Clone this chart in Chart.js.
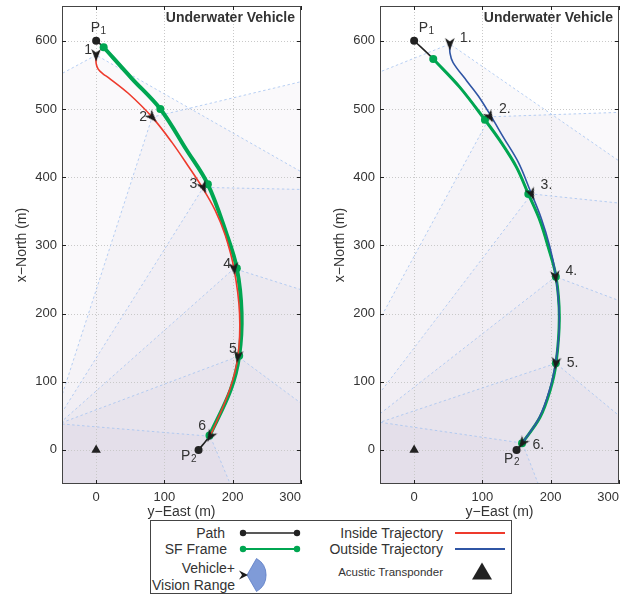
<!DOCTYPE html>
<html>
<head>
<meta charset="utf-8">
<script src="https://cdn.jsdelivr.net/npm/chart.js@4.4.0/dist/chart.umd.min.js"></script>
<style>
  body { margin: 0; background: #fff; width: 630px; height: 596px; position: relative; overflow: hidden;
         font-family: "Liberation Sans", Arial, sans-serif; color: #333; }
  canvas.panel { position: absolute; top: 0; }
  #legend { position: absolute; left: 150px; top: 520px; width: 362px; height: 74px; box-sizing: border-box;
            border: 1px solid #444; background: #fff; }
  .lt { position: absolute; text-align: right; white-space: nowrap; line-height: 16px; font-size: 14px; color: #333; }
  svg { position: absolute; overflow: visible; }
</style>
</head>
<body>
<canvas id="left" class="panel" width="318" height="522" style="left:0"></canvas>
<canvas id="right" class="panel" width="318" height="522" style="left:318px"></canvas>

<div id="legend"></div>
<div class="lt" style="right:405px;top:525px">Path</div>
<div class="lt" style="right:403px;top:541px">SF Frame</div>
<div class="lt" style="right:395px;top:560px">Vehicle+</div>
<div class="lt" style="right:395px;top:577px">Vision Range</div>
<div class="lt" style="right:187px;top:525px">Inside Trajectory</div>
<div class="lt" style="right:187px;top:541px">Outside Trajectory</div>
<div class="lt" style="right:187px;top:564px;font-size:11.5px">Acustic Transponder</div>
<svg style="left:239px;top:527px" width="62" height="12">
  <line x1="4" y1="6" x2="58" y2="6" stroke="#222" stroke-width="1.6"/>
  <circle cx="4" cy="6" r="3.2" fill="#222"/><circle cx="58" cy="6" r="3.2" fill="#222"/>
</svg>
<svg style="left:239px;top:543px" width="62" height="12">
  <line x1="4" y1="6" x2="58" y2="6" stroke="#00a651" stroke-width="2"/>
  <circle cx="4" cy="6" r="3.2" fill="#00a651"/><circle cx="58" cy="6" r="3.2" fill="#00a651"/>
</svg>
<svg style="left:455px;top:529px" width="52" height="8"><line x1="0" y1="4" x2="50" y2="4" stroke="#ee3a2c" stroke-width="2"/></svg>
<svg style="left:455px;top:545px" width="52" height="8"><line x1="0" y1="4" x2="50" y2="4" stroke="#2f55a4" stroke-width="2"/></svg>
<svg style="left:234px;top:555px" width="36" height="40">
  <path d="M13,20 L22.5,3.5 A19,19 0 0,1 22.5,36.5 Z" fill="#7f9bd8" stroke="#5b7bc4" stroke-width="0.8"/>
  <polygon points="14,20 5,15.5 8,20 5,24.5" fill="#1b1b1b"/>
</svg>
<svg style="left:471px;top:561px" width="22" height="20"><polygon points="11,1.5 21,18.5 1,18.5" fill="#222"/></svg>

<script>
const xTicks = [0, 100, 200, 300];
const yTicks = [0, 100, 200, 300, 400, 500, 600];
const transponder = [[0, 0]];

// left panel: path, SF frame and inside trajectory
const leftEnds = [[0, 600], [150, 0]];
const leftSF = [[11, 590.5], [52, 545], [94, 500], [132, 440.5], [163.6, 389.5], [190.6, 318], [206, 266.5],
                [213, 200.7], [209.5, 138], [197, 88], [166, 21]];
const leftSFDots = [[11, 590.5], [94, 500], [163.6, 389.5], [206, 266.5], [209.5, 138], [166, 21]];
const leftInside = [[0, 579], [0, 567], [3, 558.5], [10, 551.5], [18, 546], [47, 523], [82, 488], [111, 451],
                    [135, 416], [156, 384], [174, 352], [189, 315], [202, 265], [210, 200], [207.6, 137],
                    [195.5, 88], [167, 20]];
const leftVehicles = [[0, 579], [82, 488], [157, 385], [202, 266], [207.6, 137], [167, 20]];
const leftHeadings = [180, 137, 156, 173, 187, 210];
const leftViewA = [[-50, 552], [-50, 80], [-50, 55], [-50, 42], [-50, 40], [-50, 38]];
const leftViewB = [[300, 408], [300, 540], [300, 382], [300, 235], [300, 68.5], [196, -49]];
const leftNames = ['1', '2', '3', '4', '5', '6'];

// right panel: path, SF frame and outside trajectory
const rightEnds = [[0, 600], [150, 0]];
const rightSF = [[28, 573.3], [67, 531.7], [103.7, 484], [125.7, 453.5], [150, 414.4], [167.2, 375.4], [184.3, 336.2],
                 [196.5, 297], [207.8, 254], [212.6, 194.4], [207.8, 127], [199, 87], [184.3, 47.8], [158, 9.7]];
const rightSFDots = [[28, 573.3], [103.7, 484], [167.2, 375.4], [207.5, 254], [207.5, 127], [158, 9.7]];
const rightOutside = [[52.3, 595.3], [52.5, 582], [57, 568], [76.8, 541.5], [94, 519], [111, 492], [131, 458],
                      [153, 421], [170, 380], [186, 340], [199, 297], [207, 258], [212, 210], [212, 170],
                      [207, 127], [198, 87], [183, 47], [158.5, 10]];
const rightVehicles = [[52.3, 595.3], [111, 488.5], [172, 375.4], [207, 254], [207.5, 127], [158.5, 10]];
const rightHeadings = [180, 150, 158, 173, 187, 215];
const rightViewA = [[-50, 554.4], [-50, 192], [-50, 84], [-50, 53], [-50, 40.5], [-50, 40.5]];
const rightViewB = [[243, 463.3], [300, 495], [300, 362], [300, 219], [300, 50.3], [181.8, -50]];
const rightNames = ['1.', '2.', '3.', '4.', '5.', '6.'];

const FONT = '"Liberation Sans", Arial, sans-serif';
const INK = '#333';
const GREEN = '#00a651';

// vehicle symbol, pointing up, rotated per point
function makeDart() {
    const c = document.createElement('canvas');
    c.width = 16; c.height = 16;
    const g = c.getContext('2d');
    g.fillStyle = '#1b1b1b';
    g.beginPath();
    g.moveTo(8, 1.5); g.lineTo(12.8, 14); g.lineTo(8, 10.5); g.lineTo(3.2, 14);
    g.closePath();
    g.fill();
    return c;
}
const dart = makeDart();

const xy = pts => pts.map(p => ({x: p[0], y: p[1]}));

function scenePlugin(panel) {
    return {
        id: 'scene',
        beforeDatasetsDraw(chart) {
            const {ctx, chartArea: a, scales: {x, y}} = chart;
            const px = p => [x.getPixelForValue(p[0]), y.getPixelForValue(p[1])];
            ctx.save();
            ctx.beginPath();
            ctx.rect(a.left, a.top, a.width, a.height);
            ctx.clip();

            // vision range wedges
            const wedges = panel.vehicles.map((v, i) => {
                const far = e => {
                    const dx = e[0] - v[0], dy = e[1] - v[1], l = Math.hypot(dx, dy);
                    return [v[0] + dx / l * 3000, v[1] + dy / l * 3000];
                };
                return [px(v), px(far(panel.viewA[i])), px(far(panel.viewB[i]))];
            });
            ctx.fillStyle = 'rgba(150,128,182,0.05)';
            wedges.forEach(w => {
                ctx.beginPath();
                ctx.moveTo(w[0][0], w[0][1]);
                ctx.lineTo(w[1][0], w[1][1]);
                ctx.lineTo(w[2][0], w[2][1]);
                ctx.closePath();
                ctx.fill();
            });

            // dotted grid
            ctx.strokeStyle = '#c9c9c9';
            ctx.lineWidth = 1;
            ctx.setLineDash([1, 2]);
            xTicks.forEach(v => {
                const p = Math.round(x.getPixelForValue(v)) + 0.5;
                ctx.beginPath(); ctx.moveTo(p, a.top); ctx.lineTo(p, a.bottom); ctx.stroke();
            });
            yTicks.forEach(v => {
                const p = Math.round(y.getPixelForValue(v)) + 0.5;
                ctx.beginPath(); ctx.moveTo(a.left, p); ctx.lineTo(a.right, p); ctx.stroke();
            });

            // wedge borders
            ctx.strokeStyle = 'rgba(165,195,240,0.8)';
            ctx.setLineDash([2.5, 2.5]);
            wedges.forEach(w => {
                ctx.beginPath();
                ctx.moveTo(w[1][0], w[1][1]);
                ctx.lineTo(w[0][0], w[0][1]);
                ctx.lineTo(w[2][0], w[2][1]);
                ctx.stroke();
            });
            ctx.restore();
        },
        afterDatasetsDraw(chart) {
            const {ctx, chartArea: a, scales: {x, y}} = chart;
            ctx.save();
            ctx.fillStyle = INK;
            ctx.textBaseline = 'middle';

            // waypoint numbers
            ctx.font = '14px ' + FONT;
            ctx.textAlign = panel.labelAlign;
            panel.vehicles.forEach((v, i) => {
                const o = panel.labelOffsets[i];
                ctx.fillText(panel.names[i], x.getPixelForValue(v[0]) + o[0], y.getPixelForValue(v[1]) + o[1]);
            });

            // P1 / P2
            ctx.textAlign = 'left';
            panel.ends.forEach((e, i) => {
                const o = panel.endOffsets[i];
                const cx = x.getPixelForValue(e[0]) + o[0], cy = y.getPixelForValue(e[1]) + o[1];
                ctx.font = '14px ' + FONT;
                const wP = ctx.measureText('P').width;
                ctx.font = '10px ' + FONT;
                const wS = ctx.measureText(String(i + 1)).width;
                const x0 = cx - (wP + wS) / 2;
                ctx.font = '14px ' + FONT;
                ctx.fillText('P', x0, cy);
                ctx.font = '10px ' + FONT;
                ctx.fillText(String(i + 1), x0 + wP + 0.5, cy + 3);
            });

            // title inside the axes
            ctx.font = 'bold 14px ' + FONT;
            ctx.textAlign = 'right';
            ctx.fillText('Underwater Vehicle', a.right - 6, a.top + 12);

            // box and inward ticks
            ctx.strokeStyle = '#444';
            ctx.lineWidth = 1;
            ctx.strokeRect(a.left + 0.5, a.top + 0.5, a.width - 1, a.height - 1);
            ctx.strokeStyle = '#222';
            ctx.beginPath();
            xTicks.forEach(v => {
                const p = Math.round(x.getPixelForValue(v)) + 0.5;
                ctx.moveTo(p, a.bottom); ctx.lineTo(p, a.bottom - 4);
                ctx.moveTo(p, a.top); ctx.lineTo(p, a.top + 4);
            });
            yTicks.forEach(v => {
                const p = Math.round(y.getPixelForValue(v)) + 0.5;
                ctx.moveTo(a.left, p); ctx.lineTo(a.left + 4, p);
                ctx.moveTo(a.right, p); ctx.lineTo(a.right - 4, p);
            });
            ctx.stroke();
            ctx.restore();
        }
    };
}

function makePanel(id, panel) {
    const path = [panel.ends[0], ...panel.sf, panel.ends[1]];
    return new Chart(document.getElementById(id), {
        type: 'scatter',
        data: {
            datasets: [
                { data: xy(panel.vehicles), pointStyle: dart, pointRotation: panel.headings, pointRadius: 5 },
                { data: xy(panel.traj), showLine: true, borderColor: panel.trajColor, borderWidth: 1.6,
                  pointRadius: 0, tension: 0.35 },
                { data: xy(panel.sfDots), pointRadius: 4, pointBackgroundColor: GREEN, pointBorderWidth: 0 },
                { data: xy(panel.sf), showLine: true, borderColor: GREEN, borderWidth: panel.sfWidth,
                  pointRadius: 0, tension: 0.35 },
                { data: xy(path), showLine: true, borderColor: '#222', borderWidth: 1.6, tension: 0.35,
                  pointRadius: path.map((p, i) => (i === 0 || i === path.length - 1) ? 4 : 0),
                  pointBackgroundColor: '#222', pointBorderWidth: 0 },
                { data: xy(transponder), pointStyle: 'triangle', pointRadius: 5.5,
                  pointBackgroundColor: '#222', pointBorderWidth: 0 }
            ]
        },
        options: {
            responsive: false,
            animation: false,
            devicePixelRatio: 1,
            events: [],
            layout: { padding: { top: 6, right: 17, left: 0, bottom: 0 } },
            plugins: { legend: { display: false }, tooltip: { enabled: false } },
            scales: {
                x: {
                    type: 'linear', min: -50, max: 300,
                    // blank tick at the left edge so that 'inner' keeps 0 centred and pulls 300 inside
                    afterBuildTicks: s => { s.ticks = [-50, ...xTicks].map(v => ({value: v})); },
                    afterFit: s => { s.height = 38; s.paddingLeft = 0; s.paddingRight = 0; },
                    grid: { display: false, drawTicks: false },
                    border: { display: false },
                    ticks: { color: INK, font: { family: FONT, size: 13 }, padding: 6, maxRotation: 0,
                             align: 'inner', callback: v => v === -50 ? '' : v },
                    title: { display: true, text: 'y−East (m)', color: INK, font: { family: FONT, size: 14 },
                             padding: { top: 0, bottom: 1.6 } }
                },
                y: {
                    type: 'linear', min: -50, max: 651,
                    afterBuildTicks: s => { s.ticks = yTicks.map(v => ({value: v})); },
                    afterFit: s => { s.width = 62; s.paddingTop = 0; s.paddingBottom = 0; },
                    grid: { display: false, drawTicks: false },
                    border: { display: false },
                    ticks: { color: INK, font: { family: FONT, size: 13 }, padding: 5 },
                    title: { display: true, text: 'x−North (m)', color: INK, font: { family: FONT, size: 14 },
                             padding: { top: 13.5, bottom: 0 } }
                }
            }
        },
        plugins: [scenePlugin(panel)]
    });
}

makePanel('left', {
    ends: leftEnds, sf: leftSF, sfDots: leftSFDots, traj: leftInside, trajColor: '#ee3a2c', sfWidth: 4,
    vehicles: leftVehicles, headings: leftHeadings, viewA: leftViewA, viewB: leftViewB, names: leftNames,
    labelAlign: 'center',
    labelOffsets: [[-8, -5], [-9, 0], [-10, -3], [-7, -4], [-5, -7], [-8, -10]],
    endOffsets: [[2, -13], [-10, 6]]
});

makePanel('right', {
    ends: rightEnds, sf: rightSF, sfDots: rightSFDots, traj: rightOutside, trajColor: '#2f55a4', sfWidth: 3,
    vehicles: rightVehicles, headings: rightHeadings, viewA: rightViewA, viewB: rightViewB, names: rightNames,
    labelAlign: 'left',
    labelOffsets: [[10, -6], [9, -8], [9, -9], [10, -6], [11, 0], [10, 2]],
    endOffsets: [[12, -13], [-5, 9]]
});
</script>
</body>
</html>
